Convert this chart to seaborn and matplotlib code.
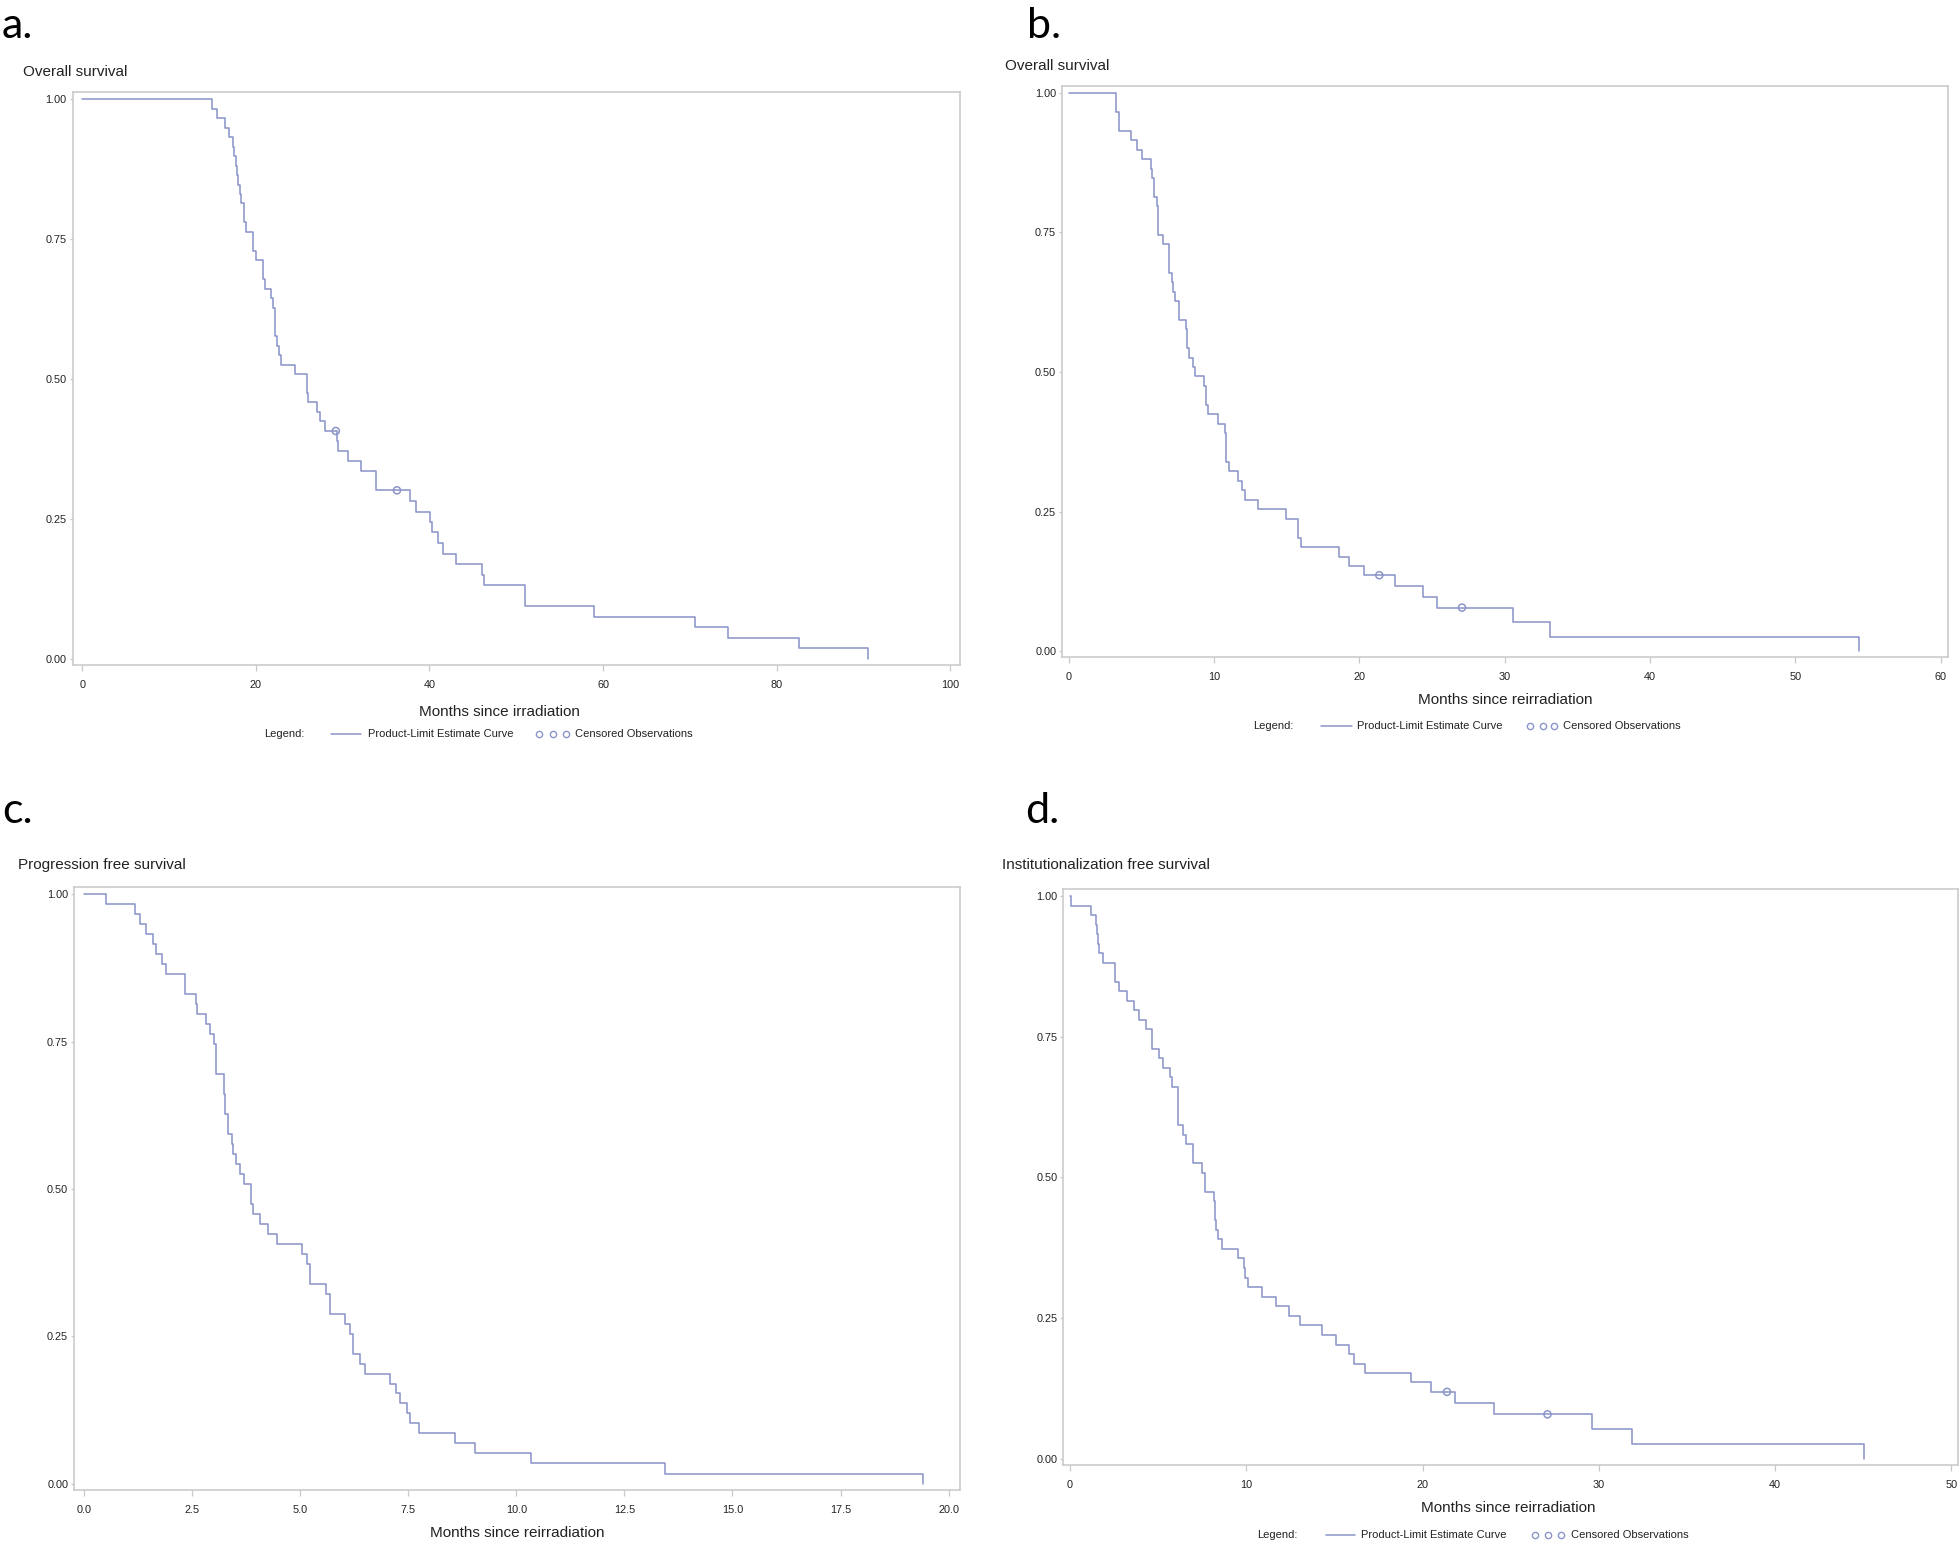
import pandas as pd
import seaborn as sns
import matplotlib.pyplot as plt
from matplotlib.lines import Line2D

sns.set_style('white')
plt.rcParams['font.family'] = ['Liberation Sans', 'DejaVu Sans']

W, H = 1959, 1550

# a. overall survival, months since irradiation (step points)
a_months = [0, 14.9, 15.5, 16.4, 16.9, 17.3, 17.5, 17.65, 17.8, 17.9, 18.15, 18.3, 18.65, 18.85,
            19.7, 19.95, 20.85, 21.05, 21.75, 22.0, 22.2, 22.45, 22.7, 22.9, 24.5, 25.85, 26.0,
            27.0, 27.4, 27.9, 29.3, 29.4, 30.65, 32.05, 33.8, 37.7, 38.4, 40.1, 40.3, 41.0, 41.5,
            43.1, 46.1, 46.3, 51.0, 59.0, 70.6, 74.4, 82.6, 90.6]
a_surv = [1.0, 0.983, 0.966, 0.949, 0.932, 0.915, 0.898, 0.881, 0.864, 0.847, 0.831, 0.814, 0.780,
          0.763, 0.729, 0.712, 0.678, 0.661, 0.644, 0.627, 0.576, 0.559, 0.542, 0.525, 0.508, 0.475,
          0.458, 0.441, 0.424, 0.407, 0.389, 0.371, 0.354, 0.336, 0.301, 0.282, 0.263, 0.244, 0.226,
          0.207, 0.188, 0.169, 0.150, 0.132, 0.094, 0.075, 0.056, 0.038, 0.019, 0.0]
a_cens_months = [29.2, 36.25]
a_cens_surv = [0.407, 0.301]

# b. overall survival, months since reirradiation
b_months = [0, 3.25, 3.45, 4.28, 4.67, 5.02, 5.63, 5.73, 5.89, 6.05, 6.12, 6.46, 6.92, 7.08, 7.19,
            7.31, 7.61, 8.04, 8.11, 8.29, 8.57, 8.68, 9.30, 9.44, 9.60, 10.27, 10.73, 10.85, 11.0,
            11.67, 11.9, 12.15, 13.03, 14.93, 15.78, 16.0, 18.6, 19.26, 20.33, 22.42, 24.38, 25.32,
            30.54, 33.13, 54.39]
b_surv = [1.0, 0.966, 0.932, 0.915, 0.898, 0.881, 0.864, 0.847, 0.814, 0.797, 0.746, 0.729, 0.678,
          0.661, 0.644, 0.627, 0.593, 0.576, 0.542, 0.525, 0.508, 0.492, 0.475, 0.441, 0.424, 0.407,
          0.390, 0.339, 0.322, 0.305, 0.288, 0.271, 0.254, 0.237, 0.203, 0.186, 0.169, 0.153, 0.136,
          0.116, 0.097, 0.078, 0.052, 0.026, 0.0]
b_cens_months = [21.37, 27.06]
b_cens_surv = [0.136, 0.078]

# c. progression free survival
c_months = [0, 0.51, 1.19, 1.30, 1.44, 1.59, 1.66, 1.80, 1.90, 2.34, 2.59, 2.61, 2.82, 2.92, 3.02,
            3.05, 3.24, 3.26, 3.33, 3.42, 3.46, 3.53, 3.61, 3.70, 3.87, 3.92, 4.07, 4.27, 4.47, 5.04,
            5.17, 5.24, 5.61, 5.69, 6.04, 6.15, 6.23, 6.38, 6.51, 7.09, 7.21, 7.32, 7.47, 7.54, 7.76,
            8.58, 9.05, 10.33, 13.44, 19.41]
c_surv = [1.0, 0.983, 0.966, 0.949, 0.932, 0.915, 0.898, 0.881, 0.864, 0.831, 0.814, 0.797, 0.780,
          0.763, 0.746, 0.695, 0.661, 0.627, 0.593, 0.576, 0.559, 0.542, 0.525, 0.508, 0.475, 0.458,
          0.441, 0.424, 0.407, 0.390, 0.373, 0.339, 0.322, 0.288, 0.271, 0.254, 0.220, 0.203, 0.186,
          0.169, 0.153, 0.136, 0.119, 0.102, 0.085, 0.068, 0.051, 0.034, 0.017, 0.0]

# d. institutionalization free survival
d_months = [0, 0.05, 1.17, 1.45, 1.51, 1.57, 1.66, 1.89, 2.55, 2.80, 3.21, 3.65, 3.93, 4.31, 4.63,
            5.07, 5.30, 5.67, 5.81, 6.15, 6.43, 6.56, 6.96, 7.47, 7.68, 8.15, 8.22, 8.30, 8.40, 8.61,
            9.54, 9.85, 9.92, 10.10, 10.89, 11.70, 12.41, 13.04, 14.28, 15.11, 15.82, 16.13, 16.71,
            19.34, 20.48, 21.82, 24.05, 29.59, 31.87, 45.04]
d_surv = [1.0, 0.983, 0.966, 0.949, 0.932, 0.915, 0.898, 0.881, 0.847, 0.831, 0.814, 0.797, 0.780,
          0.763, 0.729, 0.712, 0.695, 0.678, 0.661, 0.593, 0.576, 0.559, 0.525, 0.508, 0.475, 0.458,
          0.424, 0.407, 0.390, 0.373, 0.356, 0.339, 0.322, 0.305, 0.288, 0.271, 0.254, 0.237, 0.220,
          0.203, 0.186, 0.169, 0.153, 0.136, 0.119, 0.099, 0.079, 0.053, 0.026, 0.0]
d_cens_months = [21.39, 27.09]
d_cens_surv = [0.119, 0.079]

y_ticks = [0, 0.25, 0.5, 0.75, 1.0]
line_col = '#8c95c9'
spine_col = '#c8c8c8'
text_col = '#222222'


def fx(px):
    return px / W


def fy(py):
    return 1 - py / H


def km_panel(rect, months, surv, cens_m, cens_s, xticks, xfmt, xlim):
    left, top, right, bottom = rect
    ax = fig.add_axes([fx(left), fy(bottom), fx(right - left), (bottom - top) / H])
    df = pd.DataFrame({'months': months, 'surv': surv})
    sns.lineplot(data=df, x='months', y='surv', ax=ax, drawstyle='steps-post', color=line_col,
                 lw=1.15, sort=False, estimator=None)
    if cens_m:
        sns.scatterplot(x=cens_m, y=cens_s, ax=ax, marker='o', s=26, facecolor='none',
                        edgecolor=line_col, linewidth=1.1, zorder=3)
    ax.set_xlim(*xlim)
    ax.set_ylim(-0.011, 1.012)
    ax.set_xticks(xticks)
    ax.set_xticklabels([xfmt.format(t) for t in xticks])
    ax.set_yticks(y_ticks)
    ax.set_yticklabels(['{:.2f}'.format(t) for t in y_ticks])
    ax.set_xlabel('')
    ax.set_ylabel('')
    for s in ax.spines.values():
        s.set_color(spine_col)
        s.set_linewidth(1.1)
    ax.tick_params(axis='x', bottom=True, direction='out', length=4.3, width=0.9,
                   color=spine_col, labelsize=7.8, labelcolor=text_col, pad=6.5)
    ax.tick_params(axis='y', left=True, direction='out', length=2, width=0.9,
                   color=spine_col, labelsize=7.8, labelcolor=text_col, pad=2.2)
    return ax


def legend_row(y, x_leg, x_line, x_txt, x_circ, x_cens):
    fig.text(fx(x_leg), fy(y), 'Legend:', fontsize=8, color=text_col, va='center')
    fig.add_artist(Line2D([fx(x_line[0]), fx(x_line[1])], [fy(y), fy(y)],
                          transform=fig.transFigure, color=line_col, lw=1.1))
    fig.text(fx(x_txt), fy(y), 'Product-Limit Estimate Curve', fontsize=8, color=text_col, va='center')
    fig.add_artist(Line2D([fx(c) for c in x_circ], [fy(y)] * 3, transform=fig.transFigure,
                          ls='none', marker='o', ms=4.5, mfc='none', mec=line_col, mew=1.0))
    fig.text(fx(x_cens), fy(y), 'Censored Observations', fontsize=8, color=text_col, va='center')


fig = plt.figure(figsize=(W / 100, H / 100), dpi=100)

km_panel((72.5, 92.3, 960, 665), a_months, a_surv, a_cens_months, a_cens_surv,
         [0, 20, 40, 60, 80, 100], '{:.0f}', (-1.15, 101.15))
km_panel((1062, 86, 1948, 657.3), b_months, b_surv, b_cens_months, b_cens_surv,
         [0, 10, 20, 30, 40, 50, 60], '{:.0f}', (-0.46, 60.5))
km_panel((74, 887.3, 960, 1490), c_months, c_surv, [], [],
         [0, 2.5, 5, 7.5, 10, 12.5, 15, 17.5, 20], '{:.1f}', (-0.225, 20.26))
km_panel((1063.3, 889.3, 1958, 1465), d_months, d_surv, d_cens_months, d_cens_surv,
         [0, 10, 20, 30, 40, 50], '{:.0f}', (-0.38, 50.38))

# panel letters
for lab, x, y in [('a.', 2, 38), ('b.', 1027, 38), ('c.', 2, 823), ('d.', 1025, 823)]:
    fig.text(fx(x), fy(y), lab, fontsize=31, family=['Lato', 'DejaVu Sans'], color='black',
             va='baseline', ha='left')

# panel titles
for t, x, y in [('Overall survival', 23, 71.5), ('Overall survival', 1005, 65.5),
                ('Progression free survival', 17.5, 865), ('Institutionalization free survival', 1002, 865)]:
    fig.text(fx(x), fy(y), t, fontsize=11, color=text_col, va='center', ha='left')

# axis labels
for t, x, y in [('Months since irradiation', 499, 712), ('Months since reirradiation', 1505.6, 700),
                ('Months since reirradiation', 517.5, 1532.7), ('Months since reirradiation', 1508, 1508.4)]:
    fig.text(fx(x), fy(y), t, fontsize=11, color=text_col, va='center', ha='center')

legend_row(734, 264, (331, 361), 367.5, (539, 552.5, 565.6), 575)
legend_row(725.7, 1253, (1320.6, 1352), 1357, (1530, 1542.5, 1553.75), 1563)
legend_row(1535, 1257, (1325.6, 1355), 1361, (1535, 1547.5, 1561), 1570.6)

fig.savefig('out.png', dpi=100)
